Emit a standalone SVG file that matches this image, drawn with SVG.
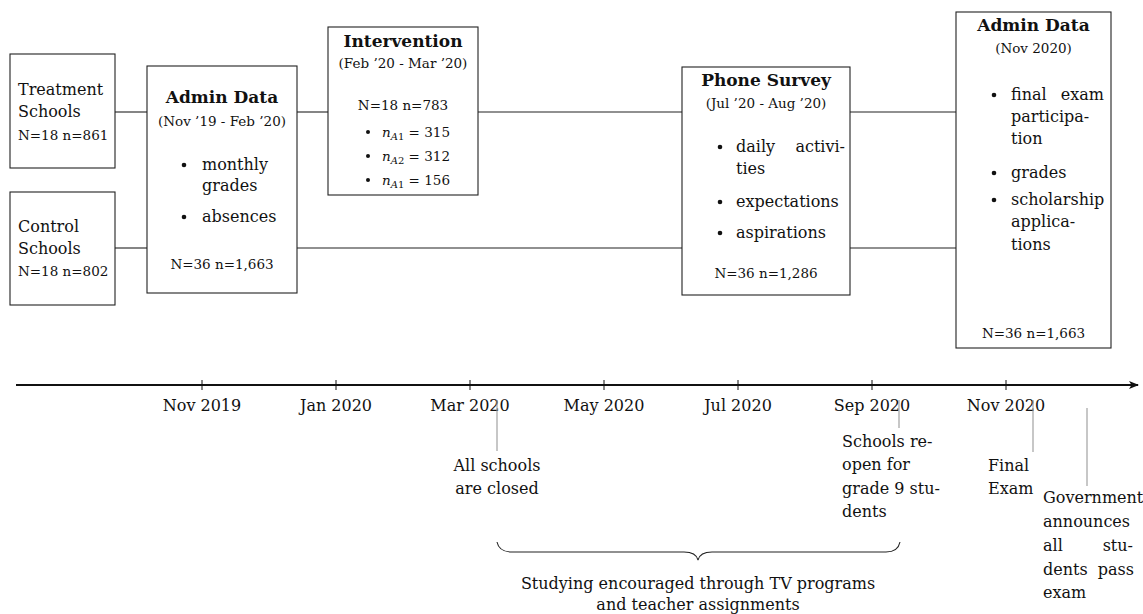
<svg xmlns="http://www.w3.org/2000/svg" width="1143" height="614" viewBox="0 0 1143 614">
  <defs>
    <style>
      text { font-family: "DejaVu Serif", "Liberation Serif", serif; fill: #111; }
      .t { font-size: 16px; }
      .s { font-size: 13.5px; }
      .b { font-size: 17px; font-weight: bold; }
      .c { text-anchor: middle; }
      .e { text-anchor: end; }
      .box { fill: #fff; stroke: #222; stroke-width: 1.1; }
      .link { stroke: #222; stroke-width: 1.1; fill: none; }
      .axis { stroke: #111; stroke-width: 2; fill: none; }
      .tick { stroke: #111; stroke-width: 1; }
      .pin { stroke: #999; stroke-width: 1.1; }
      .dot { fill: #111; }
      .mi { font-style: italic; }
    </style>
    <marker id="arrow" viewBox="0 0 10 8" refX="9" refY="4" markerWidth="10" markerHeight="8" markerUnits="userSpaceOnUse" orient="auto">
      <path d="M0,0 L10,4 L0,8 L2.5,4 Z" fill="#111"/>
    </marker>
  </defs>

  <!-- connectors between the study phases -->
  <g id="connectors">
    <line class="link" x1="115" y1="112" x2="147" y2="112"/>
    <line class="link" x1="297" y1="112" x2="328" y2="112"/>
    <line class="link" x1="478" y1="112" x2="682" y2="112"/>
    <line class="link" x1="850" y1="112" x2="956" y2="112"/>
    <line class="link" x1="115" y1="248" x2="147" y2="248"/>
    <line class="link" x1="297" y1="248" x2="682" y2="248"/>
    <line class="link" x1="850" y1="248" x2="956" y2="248"/>
  </g>

  <g id="node-treatment">
    <rect class="box" x="10" y="54" width="105" height="114"/>
    <text class="t" x="18" y="95">Treatment</text>
    <text class="t" x="18" y="117">Schools</text>
    <text class="s" x="18" y="140">N=18 n=861</text>
  </g>

  <g id="node-control">
    <rect class="box" x="10" y="192" width="105" height="113"/>
    <text class="t" x="18" y="232">Control</text>
    <text class="t" x="18" y="254">Schools</text>
    <text class="s" x="18" y="276">N=18 n=802</text>
  </g>

  <g id="node-admin-baseline">
    <rect class="box" x="147" y="66" width="150" height="227"/>
    <text class="b c" x="222" y="103">Admin Data</text>
    <text class="s c" x="222" y="126">(Nov ’19 - Feb ’20)</text>
    <circle class="dot" cx="184" cy="165" r="2.3"/>
    <text class="t" x="202" y="170">monthly</text>
    <text class="t" x="202" y="191">grades</text>
    <circle class="dot" cx="184" cy="217" r="2.3"/>
    <text class="t" x="202" y="222">absences</text>
    <text class="s c" x="222" y="269">N=36 n=1,663</text>
  </g>

  <g id="node-intervention">
    <rect class="box" x="328" y="27" width="150" height="168"/>
    <text class="b c" x="403" y="47">Intervention</text>
    <text class="s c" x="403" y="68">(Feb ’20 - Mar ’20)</text>
    <text class="s c" x="403" y="110">N=18 n=783</text>
    <circle class="dot" cx="368" cy="132" r="2"/>
    <text class="s" x="382" y="137"><tspan class="mi">n</tspan><tspan class="mi" font-size="10" dy="3">A</tspan><tspan font-size="10">1</tspan><tspan dy="-3"> = 315</tspan></text>
    <circle class="dot" cx="368" cy="156" r="2"/>
    <text class="s" x="382" y="161"><tspan class="mi">n</tspan><tspan class="mi" font-size="10" dy="3">A</tspan><tspan font-size="10">2</tspan><tspan dy="-3"> = 312</tspan></text>
    <circle class="dot" cx="368" cy="180" r="2"/>
    <text class="s" x="382" y="185"><tspan class="mi">n</tspan><tspan class="mi" font-size="10" dy="3">A</tspan><tspan font-size="10">1</tspan><tspan dy="-3"> = 156</tspan></text>
  </g>

  <g id="node-phone-survey">
    <rect class="box" x="682" y="67" width="168" height="228"/>
    <text class="b c" x="766" y="86">Phone Survey</text>
    <text class="s c" x="766" y="108">(Jul ’20 - Aug ’20)</text>
    <circle class="dot" cx="720" cy="147" r="2.3"/>
    <text class="t" x="736" y="152">daily</text>
    <text class="t e" x="845" y="152">activi-</text>
    <text class="t" x="736" y="174">ties</text>
    <circle class="dot" cx="720" cy="202" r="2.3"/>
    <text class="t" x="736" y="207">expectations</text>
    <circle class="dot" cx="720" cy="233" r="2.3"/>
    <text class="t" x="736" y="238">aspirations</text>
    <text class="s c" x="766" y="278">N=36 n=1,286</text>
  </g>

  <g id="node-admin-endline">
    <rect class="box" x="956" y="12" width="155" height="336"/>
    <text class="b c" x="1033.5" y="31">Admin Data</text>
    <text class="s c" x="1033.5" y="53">(Nov 2020)</text>
    <circle class="dot" cx="994" cy="95" r="2.3"/>
    <text class="t" x="1011" y="100">final</text>
    <text class="t e" x="1104" y="100">exam</text>
    <text class="t" x="1011" y="122">participa-</text>
    <text class="t" x="1011" y="144">tion</text>
    <circle class="dot" cx="994" cy="173" r="2.3"/>
    <text class="t" x="1011" y="178">grades</text>
    <circle class="dot" cx="994" cy="200" r="2.3"/>
    <text class="t" x="1011" y="205">scholarship</text>
    <text class="t" x="1011" y="227">applica-</text>
    <text class="t" x="1011" y="250">tions</text>
    <text class="s c" x="1033.5" y="338">N=36 n=1,663</text>
  </g>

  <!-- time axis with two-month ticks -->
  <g id="timeline">
    <line class="axis" x1="16" y1="385" x2="1138" y2="385" marker-end="url(#arrow)"/>
    <line class="tick" x1="202" y1="380" x2="202" y2="390"/>
    <line class="tick" x1="336" y1="380" x2="336" y2="390"/>
    <line class="tick" x1="470" y1="380" x2="470" y2="390"/>
    <line class="tick" x1="604" y1="380" x2="604" y2="390"/>
    <line class="tick" x1="738" y1="380" x2="738" y2="390"/>
    <line class="tick" x1="872" y1="380" x2="872" y2="390"/>
    <line class="tick" x1="1006" y1="380" x2="1006" y2="390"/>
    <text class="t c" x="202" y="411">Nov 2019</text>
    <text class="t c" x="336" y="411">Jan 2020</text>
    <text class="t c" x="470" y="411">Mar 2020</text>
    <text class="t c" x="604" y="411">May 2020</text>
    <text class="t c" x="738" y="411">Jul 2020</text>
    <text class="t c" x="872" y="411">Sep 2020</text>
    <text class="t c" x="1006" y="411">Nov 2020</text>
  </g>

  <!-- events hanging below the axis -->
  <g id="event-closure">
    <line class="pin" x1="497" y1="400" x2="497" y2="451"/>
    <text class="t c" x="497" y="471">All schools</text>
    <text class="t c" x="497" y="494">are closed</text>
  </g>

  <g id="event-reopen">
    <line class="pin" x1="899" y1="400" x2="899" y2="428"/>
    <text class="t" x="842" y="447">Schools re-</text>
    <text class="t" x="842" y="470">open for</text>
    <text class="t" x="842" y="494">grade 9 stu-</text>
    <text class="t" x="842" y="517">dents</text>
  </g>

  <g id="event-final-exam">
    <line class="pin" x1="1033" y1="400" x2="1033" y2="452"/>
    <text class="t" x="988" y="471">Final</text>
    <text class="t" x="988" y="494">Exam</text>
  </g>

  <g id="event-announcement">
    <line class="pin" x1="1087" y1="408" x2="1087" y2="486"/>
    <text class="t" x="1043" y="503">Government</text>
    <text class="t" x="1043" y="527">announces</text>
    <text class="t" x="1043" y="551">all</text>
    <text class="t e" x="1133" y="551">stu-</text>
    <text class="t" x="1043" y="575">dents</text>
    <text class="t e" x="1134" y="575">pass</text>
    <text class="t" x="1043" y="598">exam</text>
  </g>

  <g id="remote-learning">
    <path class="link" d="M497,542 Q499,552 512,552 L684,552 Q696,552 698,560 Q700,552 712,552 L886,552 Q898,552 900,542"/>
    <text class="t c" x="698" y="589">Studying encouraged through TV programs</text>
    <text class="t c" x="698" y="610">and teacher assignments</text>
  </g>
</svg>
